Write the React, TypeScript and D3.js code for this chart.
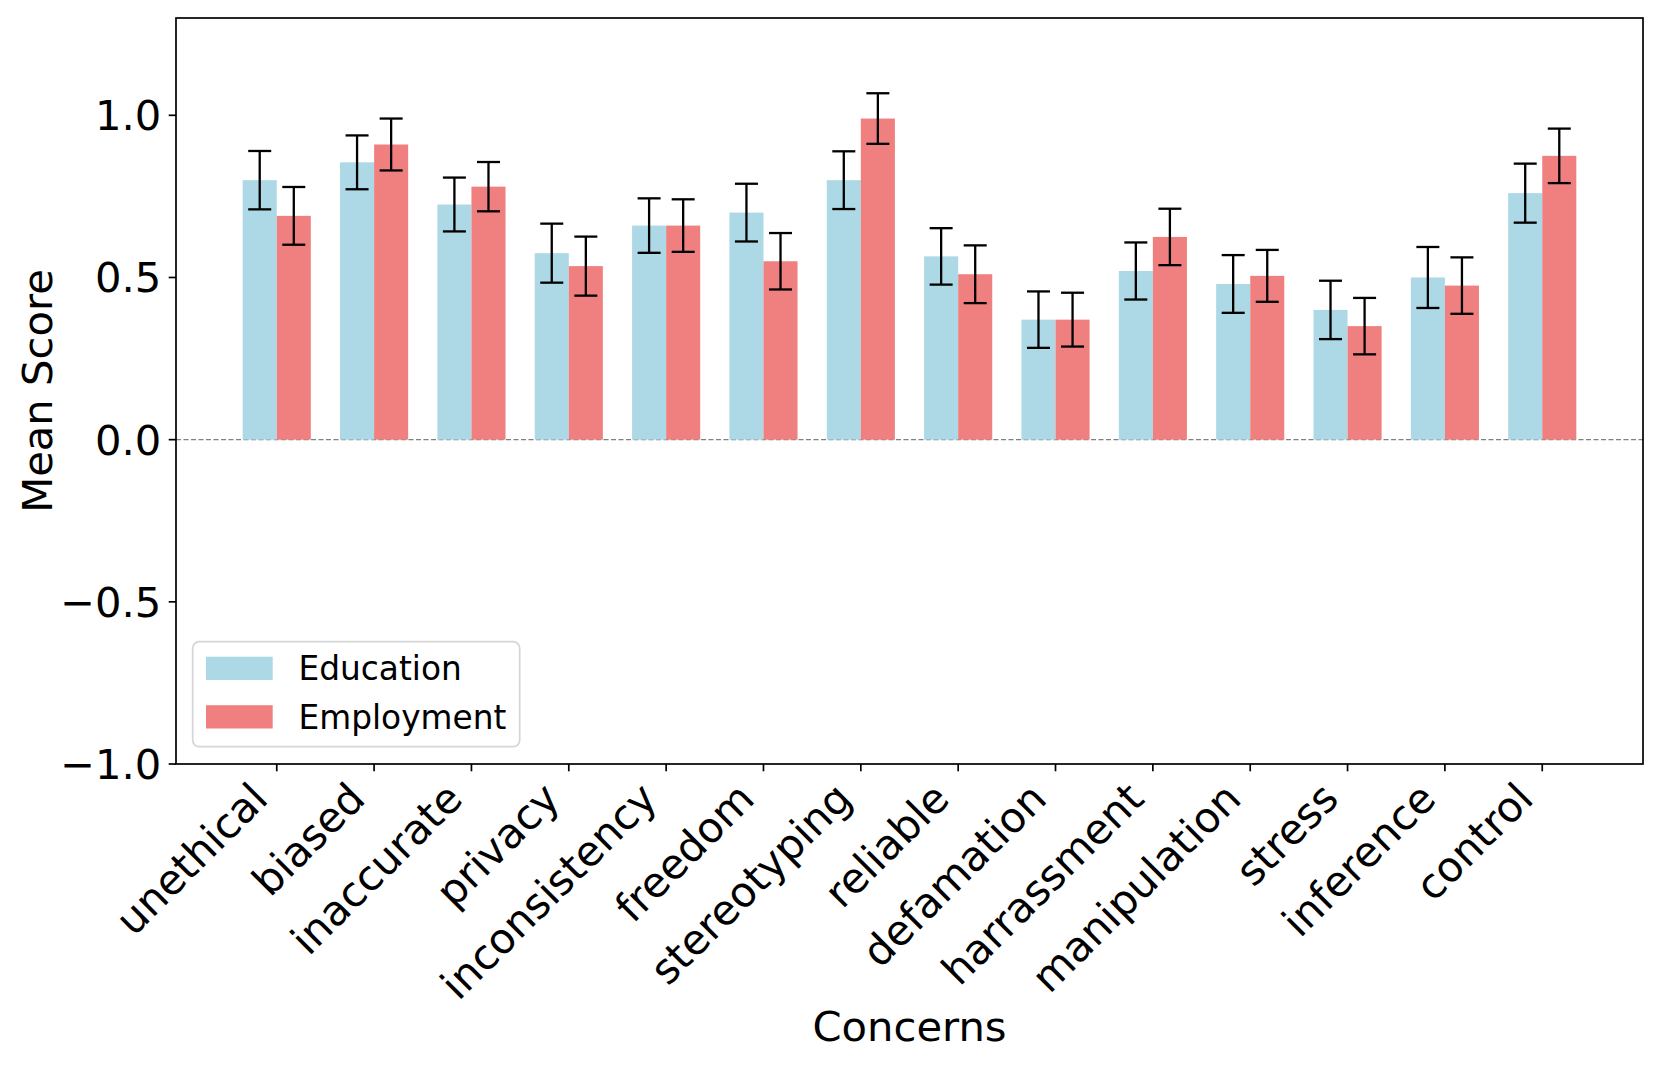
import React, { useEffect, useRef } from 'react';
import * as d3 from 'd3';

// data
const concerns: string[] = [
  'unethical', 'biased', 'inaccurate', 'privacy', 'inconsistency', 'freedom', 'stereotyping',
  'reliable', 'defamation', 'harrassment', 'manipulation', 'stress', 'inference', 'control',
];
const educationMean: number[] = [0.80, 0.855, 0.725, 0.575, 0.66, 0.70, 0.80, 0.565, 0.37, 0.52, 0.48, 0.40, 0.50, 0.76];
const employmentMean: number[] = [0.69, 0.91, 0.78, 0.535, 0.66, 0.55, 0.99, 0.51, 0.37, 0.625, 0.505, 0.35, 0.475, 0.875];
const educationErr: number[] = [0.09, 0.083, 0.083, 0.091, 0.084, 0.089, 0.089, 0.087, 0.087, 0.088, 0.089, 0.09, 0.094, 0.091];
const employmentErr: number[] = [0.089, 0.08, 0.076, 0.091, 0.081, 0.087, 0.078, 0.089, 0.083, 0.087, 0.08, 0.087, 0.087, 0.084];
const yTicks: number[] = [-1.0, -0.5, 0.0, 0.5, 1.0];
const seriesNames: string[] = ['Education', 'Employment'];
const seriesColors: string[] = ['#ADD8E6', '#F08080'];

const width: number = 1661;
const height: number = 1068;
const margin = { left: 176, right: 1661 - 1643, top: 18, bottom: 1068 - 764 };
const barWidth: number = 0.35;
const font: string = 'DejaVu Sans';

const App = () => {
  const ref = useRef<SVGSVGElement>(null);

  useEffect(() => {
    const svg: any = d3.select(ref.current);
    svg.selectAll('*').remove();

    const plotLeft = margin.left;
    const plotRight = width - margin.right;
    const plotTop = margin.top;
    const plotBottom = height - margin.bottom;

    const n = concerns.length;
    const pad = (n - 1 + 2 * barWidth) * 0.05;
    var xScale: any = d3.scaleLinear()
                        .domain([-barWidth - pad, n - 1 + barWidth + pad])
                        .range([plotLeft, plotRight]);
    var yScale: any = d3.scaleLinear()
                        .domain([-1.0, 1.3])
                        .range([plotBottom, plotTop]);

    const unit = xScale(1) - xScale(0);

    // zero line
    svg.append('line')
      .attr('x1', plotLeft).attr('x2', plotRight)
      .attr('y1', yScale(0)).attr('y2', yScale(0))
      .attr('stroke', '#808080')
      .attr('stroke-width', 1.3)
      .attr('stroke-dasharray', '5,2.5');

    const series = [
      { means: educationMean, errs: educationErr, offset: -barWidth / 2, color: seriesColors[0] },
      { means: employmentMean, errs: employmentErr, offset: barWidth / 2, color: seriesColors[1] },
    ];

    series.forEach((s) => {
      const g = svg.append('g');
      g.selectAll('rect')
        .data(s.means)
        .enter()
        .append('rect')
        .attr('x', (d: number, i: number) => xScale(i + s.offset - barWidth / 2))
        .attr('width', barWidth * unit)
        .attr('y', (d: number) => yScale(Math.max(d, 0)))
        .attr('height', (d: number) => Math.abs(yScale(d) - yScale(0)))
        .attr('fill', s.color);
    });

    // error bars on top
    series.forEach((s) => {
      const g = svg.append('g').attr('stroke', '#000').attr('stroke-width', 2.3);
      s.means.forEach((m: number, i: number) => {
        const cx = xScale(i + s.offset);
        const lo = yScale(m - s.errs[i]);
        const hi = yScale(m + s.errs[i]);
        g.append('line').attr('x1', cx).attr('x2', cx).attr('y1', lo).attr('y2', hi);
        g.append('line').attr('x1', cx - 11.5).attr('x2', cx + 11.5).attr('y1', lo).attr('y2', lo);
        g.append('line').attr('x1', cx - 11.5).attr('x2', cx + 11.5).attr('y1', hi).attr('y2', hi);
      });
    });

    // frame
    svg.append('rect')
      .attr('x', plotLeft).attr('y', plotTop)
      .attr('width', plotRight - plotLeft).attr('height', plotBottom - plotTop)
      .attr('fill', 'none').attr('stroke', '#000').attr('stroke-width', 1.7);

    // y ticks
    const yt = svg.append('g');
    yTicks.forEach((t: number) => {
      const y = yScale(t);
      yt.append('line').attr('x1', plotLeft - 7.3).attr('x2', plotLeft).attr('y1', y).attr('y2', y)
        .attr('stroke', '#000').attr('stroke-width', 1.7);
      yt.append('text')
        .attr('x', plotLeft - 14.6).attr('y', y).attr('dy', '0.36em')
        .attr('text-anchor', 'end')
        .attr('font-family', font).attr('font-size', 41.7)
        .text(t.toFixed(1).replace('-', '\u2212'));
    });

    // x ticks
    const xt = svg.append('g');
    concerns.forEach((c: string, i: number) => {
      const x = xScale(i);
      xt.append('line').attr('x1', x).attr('x2', x).attr('y1', plotBottom).attr('y2', plotBottom + 7.3)
        .attr('stroke', '#000').attr('stroke-width', 1.7);
      xt.append('text')
        .attr('transform', `translate(${x - 6.9},${plotBottom + 14.6 + 22.4}) rotate(-45)`)
        .attr('text-anchor', 'end')
        .attr('font-family', font).attr('font-size', 41.7)
        .text(c);
    });

    // axis labels
    svg.append('text')
      .attr('x', (plotLeft + plotRight) / 2).attr('y', 1041)
      .attr('text-anchor', 'middle')
      .attr('font-family', font).attr('font-size', 41.7)
      .text('Concerns');
    svg.append('text')
      .attr('transform', `translate(52,${(plotTop + plotBottom) / 2}) rotate(-90)`)
      .attr('text-anchor', 'middle')
      .attr('font-family', font).attr('font-size', 41.7)
      .text('Mean Score');

    // legend
    const lg = svg.append('g');
    lg.append('rect')
      .attr('x', 192.7).attr('y', 641.7).attr('width', 327).attr('height', 105)
      .attr('rx', 6.5).attr('ry', 6.5)
      .attr('fill', 'rgba(255,255,255,0.8)').attr('stroke', '#d5d5d5').attr('stroke-width', 1.7);
    seriesNames.forEach((name: string, i: number) => {
      const base = 680 + i * 48.5;
      lg.append('rect')
        .attr('x', 206).attr('y', base - 23.3).attr('width', 66.7).attr('height', 23.3)
        .attr('fill', seriesColors[i]);
      lg.append('text')
        .attr('x', 298.5).attr('y', base)
        .attr('font-family', font).attr('font-size', 32.8)
        .text(name);
    });
  }, []);

  return (
    <svg ref={ref} width={width} height={height}
         style={{ position: 'absolute', left: 0, top: 0, background: '#fff' }} />
  );
};

export default App;
